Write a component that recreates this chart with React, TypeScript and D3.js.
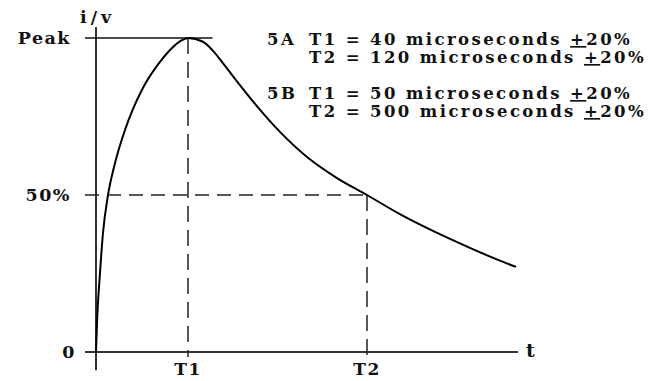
import React from 'react';
import { scaleLinear, line, curveMonotoneX } from 'd3';

// waveform: t in microseconds (5A case), v in % of peak
const times = [0, 0.43, 1.74, 3.04, 5.22, 7.83, 12.6, 16.1, 20.4, 26.5, 32.2, 37.4, 40,
    46.7, 51.2, 55.6, 63.2, 70.8, 81.1, 93.2, 106.6, 120, 134.7, 157.1, 179.4, 186.6];
const values = [0, 9.2, 25.2, 37.9, 50, 58.9, 70.7, 77.4, 84.1, 91.1, 96.2, 99.3, 100,
    98.8, 95.9, 92.0, 85.0, 78.3, 70.1, 62.1, 55.4, 50, 43.9, 36.0, 29.1, 27.1];

const xTicks = [40, 120];
const xTickLabels = ['T1', 'T2'];
const yTicks = [0, 50, 100];
const yTickLabels = ['0', '50%', 'Peak'];

const notes = [
    { tag: '5A', lines: ['T1 = 40 microseconds ', 'T2 = 120 microseconds '] },
    { tag: '5B', lines: ['T1 = 50 microseconds ', 'T2 = 500 microseconds '] },
];
const noteBaselines = [[45, 63], [99, 117]];

const W = 650;
const H = 381;
const font = '"DejaVu Serif", serif';

export default function App() {
    const x = scaleLinear().domain([0, xTicks[0], xTicks[1]]).range([96, 188, 367]);
    const y = scaleLinear().domain([0, 100]).range([352, 38]);

    const pts = times.map((t, i) => [t, values[i]] as [number, number]);
    const path = line<[number, number]>()
        .x(d => x(d[0]))
        .y(d => y(d[1]))
        .curve(curveMonotoneX)(pts);

    const axisColor = '#333';
    const half = y(50);

    return (
        <svg width={W} height={H} style={{ position: 'absolute', left: 0, top: 0, background: '#fff' }}
            fontFamily={font} fontWeight="bold" fill="#111">
            {/* axes */}
            <line x1={x(0) - 11} x2={x(187.5)} y1={y(0)} y2={y(0)} stroke={axisColor} strokeWidth={2} />
            <line x1={x(0)} x2={x(0)} y1={y(-5.8)} y2={y(103.5)} stroke={axisColor} strokeWidth={2} />
            {/* peak line */}
            <line x1={x(0) - 11} x2={x(51)} y1={y(100)} y2={y(100)} stroke="#111" strokeWidth={1.5} />
            {/* 50% guide */}
            <line x1={x(0) - 11} x2={x(xTicks[1])} y1={half} y2={half}
                stroke="#222" strokeWidth={1.5} strokeDasharray="14,8" />
            {/* T1 / T2 guides */}
            <line x1={x(xTicks[0])} x2={x(xTicks[0])} y1={y(100)} y2={y(0) + 5}
                stroke="#222" strokeWidth={1.5} strokeDasharray="16,8" />
            <line x1={x(xTicks[1])} x2={x(xTicks[1])} y1={half} y2={y(0) + 5}
                stroke="#222" strokeWidth={1.5} strokeDasharray="16,8" />

            <path d={path || ''} fill="none" stroke="#000" strokeWidth={2} />

            {/* y labels */}
            {yTicks.map((v, i) => (
                <text key={v} x={v === 0 ? 76 : 71} y={y(v)} dy="0.36em" textAnchor="end"
                    fontSize={17.5} letterSpacing={1.5}>
                    {yTickLabels[i]}
                </text>
            ))}
            <text x={80} y={23} fontSize={17.5} letterSpacing={4}>i/v</text>

            {/* x labels */}
            {xTicks.map((t, i) => (
                <text key={t} x={x(t)} y={375} textAnchor="middle" fontSize={17} letterSpacing={1.5}>
                    {xTickLabels[i]}
                </text>
            ))}
            <text x={526} y={357} fontSize={19}>t</text>

            {/* notes */}
            {notes.map((n, gi) => (
                <g key={n.tag} fontSize={16.5} letterSpacing={2.4}>
                    <text x={267} y={noteBaselines[gi][0]}>{n.tag}</text>
                    {n.lines.map((l, li) => (
                        <text key={li} x={309} y={noteBaselines[gi][li]}>
                            {l}
                            <tspan style={{ textDecoration: 'underline' }}>+</tspan>
                            20%
                        </text>
                    ))}
                </g>
            ))}
        </svg>
    );
}
